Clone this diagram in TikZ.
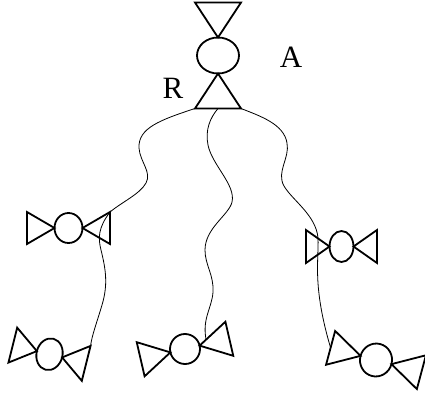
\documentclass[tikz,border=0pt]{standalone}
\usepackage{fontspec}
\setmainfont{Liberation Serif}
\usetikzlibrary{calc}
\tikzset{
  valveline/.style={line width=1.8pt, line join=miter},
  wire/.style={line width=0.8pt},
  lbl/.style={font=\fontsize{31}{34}\selectfont, inner sep=0pt}
}
% #1 name, #2 centre, #3 rotation, #4 apex dist, #5 base dist, #6 half base, #7 ellipse along, #8 ellipse across
\newcommand\valvedraw[8]{%
  \begin{scope}[shift={(#2)},rotate=#3]
    \coordinate (#1-c) at (0,0);
    \coordinate (#1-la) at (-#4,0);
    \coordinate (#1-l1) at (-#5,#6);
    \coordinate (#1-l2) at (-#5,-#6);
    \coordinate (#1-lm) at (-#5,0);
    \coordinate (#1-ra) at (#4,0);
    \coordinate (#1-r1) at (#5,#6);
    \coordinate (#1-r2) at (#5,-#6);
    \coordinate (#1-rm) at (#5,0);
    \draw[valveline] (#1-la) -- (#1-l1) -- (#1-l2) -- cycle;
    \draw[valveline] (#1-ra) -- (#1-r1) -- (#1-r2) -- cycle;
    \draw[valveline] (#1-c) ellipse [x radius=#7pt, y radius=#8pt];
  \end{scope}}
\begin{document}
\begin{tikzpicture}[x=1pt,y=1pt]
\useasboundingbox (0,0) rectangle (425,-396);
\valvedraw{top}{218,-55.5}{-90}{18}{53}{23}{18}{21}
\valvedraw{ml}{68.5,-228}{0}{14}{41.5}{16}{14}{15}
\valvedraw{mr}{341.5,-246.5}{0}{12}{35.5}{16.5}{12}{15.5}
\valvedraw{bl}{49.5,-354.25}{-14}{13}{37.8}{18}{13}{16}
\valvedraw{bm}{185,-349}{13}{15}{45.5}{17.5}{15}{15}
\valvedraw{br}{376,-360}{-15}{16}{47}{17.5}{16}{16.5}
\coordinate (bm-p) at ($(bm-ra)!0.25!(bm-r1)$);
\node[lbl] (R) at (173,-88) {R};
\node[lbl] (A) at (291,-57.5) {A};
\draw[wire] (top-r2) .. controls (160,-120) and (138,-128) .. (139,-148)
  .. controls (140,-162) and (152,-172) .. (146,-183)
  .. controls (140,-194) and (122,-202) .. (ml-r1);
\draw[wire] (ml-r1) .. controls (98,-228) and (98,-238) .. (101,-250)
  .. controls (106,-270) and (108,-285) .. (102,-305)
  .. controls (97,-322) and (92,-335) .. (bl-r1);
\draw[wire] (top-rm) .. controls (210,-118) and (205,-130) .. (208,-145)
  .. controls (212,-165) and (236,-185) .. (232,-202)
  .. controls (229,-215) and (205,-228) .. (205,-250)
  .. controls (205,-265) and (214,-275) .. (213,-292)
  .. controls (212,-308) and (202,-318) .. (bm-p);
\draw[wire] (top-r1) .. controls (260,-116) and (284,-124) .. (287,-143)
  .. controls (290,-158) and (276,-172) .. (284,-186)
  .. controls (292,-200) and (316,-215) .. (318,-238)
  .. controls (319,-260) and (312,-285) .. (br-lm);
\end{tikzpicture}
\end{document}
